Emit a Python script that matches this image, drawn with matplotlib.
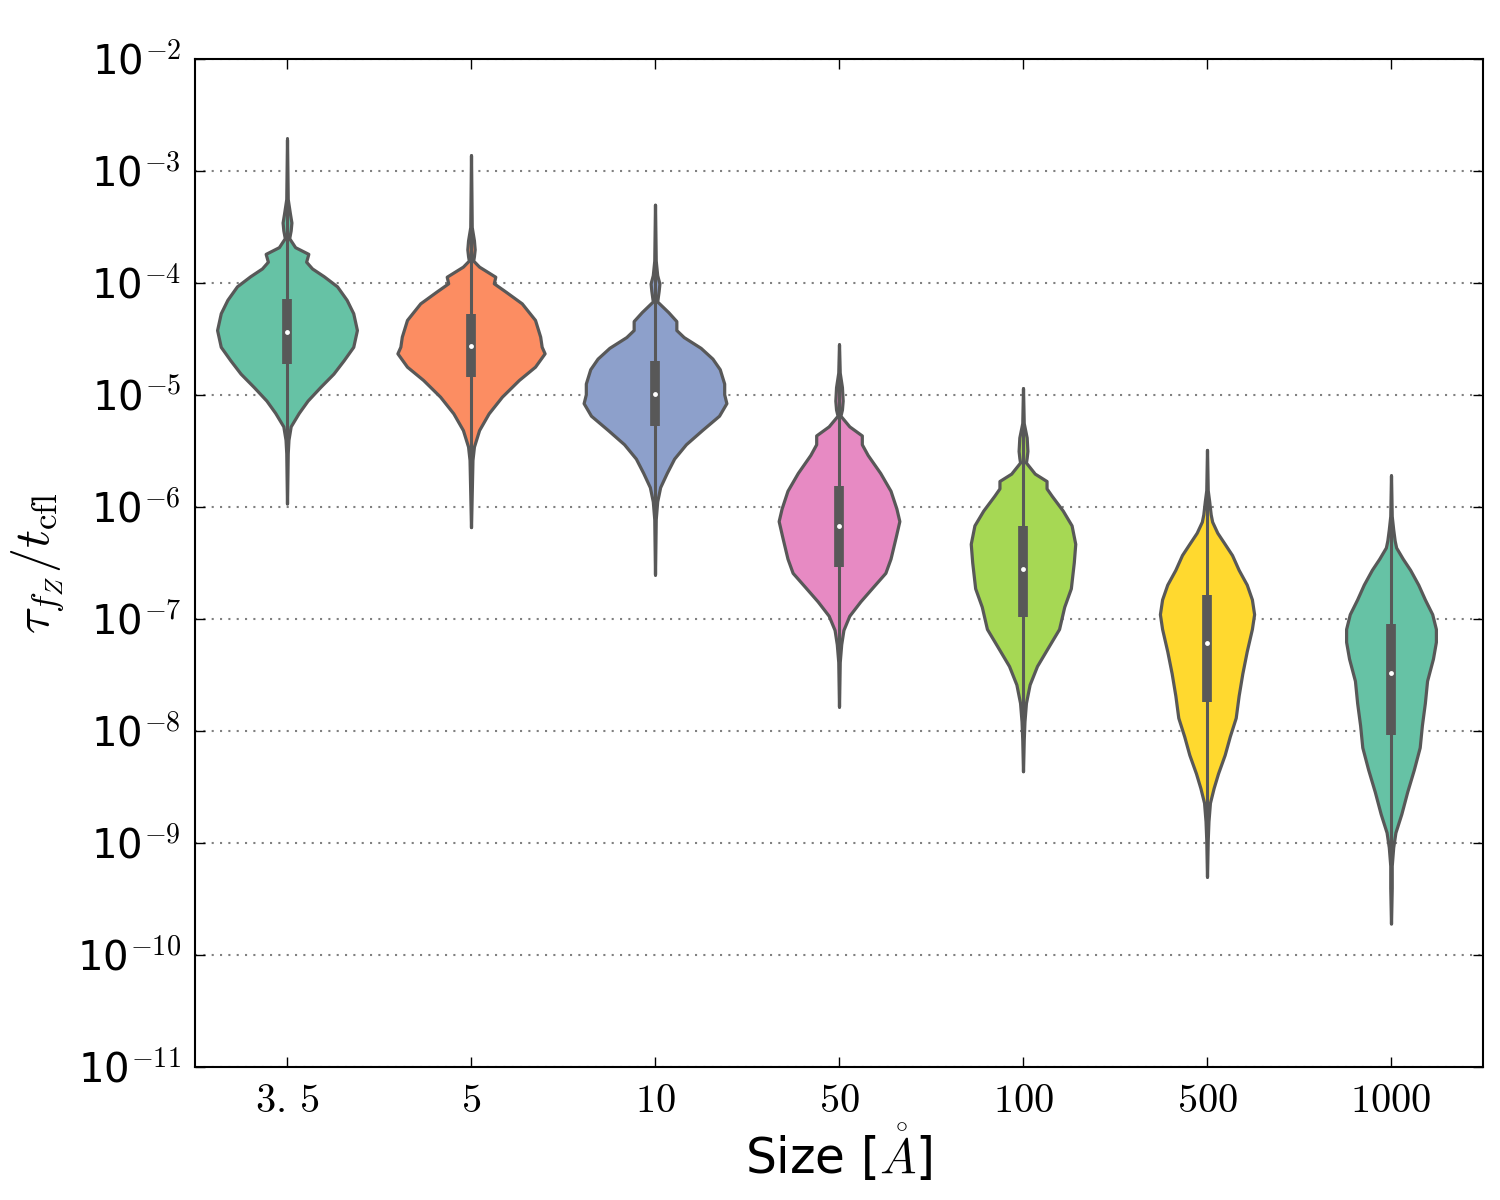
import numpy as np
import matplotlib.pyplot as plt
from matplotlib.ticker import FixedLocator, FuncFormatter, NullLocator

plt.rcParams['mathtext.fontset'] = 'cm'

# categories (grain size in Angstrom) and fill colours
sizes = ['3.\\,5', '5', '10', '50', '100', '500', '1000']
colors = ['#66c2a5', '#fc8d62', '#8da0cb', '#e78ac3', '#a6d854', '#ffd92f', '#66c2a5']
line_color = '#585858'

# violin outlines: log10(tau/t_cfl) and relative density (1 = widest)
log_35 = [-2.72, -3.25, -3.38, -3.46, -3.53, -3.60, -3.68, -3.74, -3.81, -3.87, -3.94, -4.03, -4.15,
          -4.27, -4.42, -4.57, -4.69, -4.81, -4.93, -5.05, -5.16, -5.28, -5.40, -5.52, -5.97]
dens_35 = [0, .01, .04, .06, .05, .03, .11, .29, .26, .34, .50, .68, .81,
           .90, .95, .90, .77, .63, .45, .28, .16, .05, .02, .01, 0]

log_5 = [-2.86, -3.50, -3.62, -3.70, -3.76, -3.80, -3.854, -3.944, -4.003, -4.077, -4.182, -4.330,
         -4.479, -4.569, -4.628, -4.747, -4.866, -5.015, -5.164, -5.313, -5.461, -5.580, -6.18]
dens_5 = [0, .01, .04, .05, .04, .03, .11, .33, .31, .47, .69, .87,
          .94, .96, 1.0, .87, .65, .42, .24, .11, .04, .02, 0]

log_10 = [-3.30, -3.80, -3.93, -4.005, -4.069, -4.165, -4.260, -4.340, -4.420, -4.483, -4.579,
          -4.675, -4.770, -4.898, -4.994, -5.073, -5.185, -5.313, -5.440, -5.568, -5.696, -5.823,
          -5.950, -6.110, -6.60]
dens_10 = [0, .01, .03, .06, .05, .03, .18, .29, .29, .39, .62,
           .78, .88, .94, .94, .97, .87, .64, .42, .26, .16, .07,
           .03, .01, 0]

log_50 = [-4.55, -4.80, -4.93, -5.05, -5.13, -5.185, -5.280, -5.361, -5.440, -5.536, -5.696,
          -5.855, -6.014, -6.126, -6.269, -6.461, -6.588, -6.715, -6.843, -6.971, -7.098, -7.226,
          -7.385, -7.78]
dens_50 = [0, .01, .04, .05, .04, .02, .14, .31, .31, .39, .56,
           .70, .78, .82, .77, .70, .63, .46, .29, .14, .06, .03,
           .01, 0]

log_100 = [-4.94, -5.25, -5.38, -5.50, -5.56, -5.603, -5.702, -5.768, -5.834, -5.900, -6.032,
           -6.164, -6.329, -6.495, -6.726, -6.891, -7.089, -7.254, -7.420, -7.585, -7.750, -7.915,
           -8.080, -8.36]
dens_100 = [0, .01, .05, .06, .05, .04, .16, .32, .32, .39, .54,
            .66, .71, .69, .65, .56, .49, .34, .19, .09, .04, .02,
            .01, 0]

log_500 = [-5.49, -5.85, -5.95, -6.065, -6.131, -6.230, -6.329, -6.429, -6.561, -6.693, -6.825,
           -6.957, -7.089, -7.288, -7.486, -7.684, -7.882, -8.047, -8.213, -8.378, -8.509, -8.641,
           -8.806, -8.971, -9.30]
dens_500 = [0, .01, .03, .05, .07, .14, .24, .34, .43, .54, .61,
            .64, .61, .54, .48, .43, .39, .31, .24, .15, .09, .04,
            .02, .01, 0]

log_1000 = [-5.72, -6.08, -6.20, -6.30, -6.362, -6.462, -6.561, -6.693, -6.825, -6.957, -7.089,
            -7.204, -7.354, -7.552, -7.750, -7.948, -8.146, -8.345, -8.543, -8.741, -8.906, -9.038,
            -9.203, -9.401, -9.72]
dens_1000 = [0, .01, .03, .05, .07, .16, .26, .37, .46, .56, .61,
             .61, .57, .49, .46, .42, .39, .31, .22, .14, .06, .03,
             .01, .01, 0]

outlines = [(log_35, dens_35), (log_5, dens_5), (log_10, dens_10), (log_50, dens_50),
            (log_100, dens_100), (log_500, dens_500), (log_1000, dens_1000)]

# inner box stats, log10 values
whisk_lo = [-5.964, -6.179, -6.604, -7.784, -8.361, -9.302, -9.715]
q1 = [-4.725, -4.842, -5.274, -6.536, -6.980, -7.740, -8.038]
median = [-4.435, -4.563, -4.988, -6.170, -6.554, -7.214, -7.486]
q3 = [-4.144, -4.277, -4.700, -5.813, -6.171, -6.782, -7.043]
whisk_hi = [-2.705, -2.857, -3.304, -4.547, -4.936, -5.487, -5.718]

fig = plt.figure(figsize=(15, 12), dpi=100)
ax = fig.add_axes([195 / 1500, 1 - 1067 / 1200, 1288 / 1500, 1008 / 1200])

for i, (lv, dv) in enumerate(outlines):
    y = 10 ** np.array(lv)
    hw = 0.4 * np.array(dv)
    ax.fill_betweenx(y, i - hw, i + hw, facecolor=colors[i], edgecolor=line_color,
                     linewidth=2.3, joinstyle='round', zorder=2)
    ax.plot([i, i], [10 ** whisk_lo[i], 10 ** whisk_hi[i]], color=line_color,
            linewidth=2.2, solid_capstyle='round', zorder=3)
    ax.plot([i, i], [10 ** q1[i], 10 ** q3[i]], color=line_color,
            linewidth=7, solid_capstyle='butt', zorder=3)
    ax.plot(i, 10 ** median[i], 'o', color='white', markersize=3.5,
            markeredgewidth=0, zorder=4)

ax.set_yscale('log')
ax.set_ylim(1e-11, 1e-2)
ax.set_xlim(-0.5, len(sizes) - 0.5)
ax.yaxis.set_major_locator(FixedLocator([10.0 ** k for k in range(-11, -1)]))
ax.yaxis.set_minor_locator(NullLocator())
ax.yaxis.set_major_formatter(FuncFormatter(
    lambda v, _: r'$\mathdefault{10}^{%d}$' % int(round(np.log10(v)))))
ax.set_xticks(range(len(sizes)))
ax.set_xticklabels([r'$%s$' % s for s in sizes])

ax.yaxis.grid(True, linestyle=(0, (1, 3)), color='#808080', linewidth=1.5, zorder=0)
ax.set_axisbelow(True)
ax.tick_params(direction='in', top=True, right=True, length=7, width=1,
               labelsize=29, pad=10)
for sp in ax.spines.values():
    sp.set_linewidth(1.5)

ax.set_xlabel(r'Size [$\mathring{A}$]', fontsize=35, labelpad=1)
ax.set_ylabel(r'$\tau_{f_Z}/t_{\rm cfl}$', fontsize=36, labelpad=8)

fig.savefig('out.png', dpi=100)
